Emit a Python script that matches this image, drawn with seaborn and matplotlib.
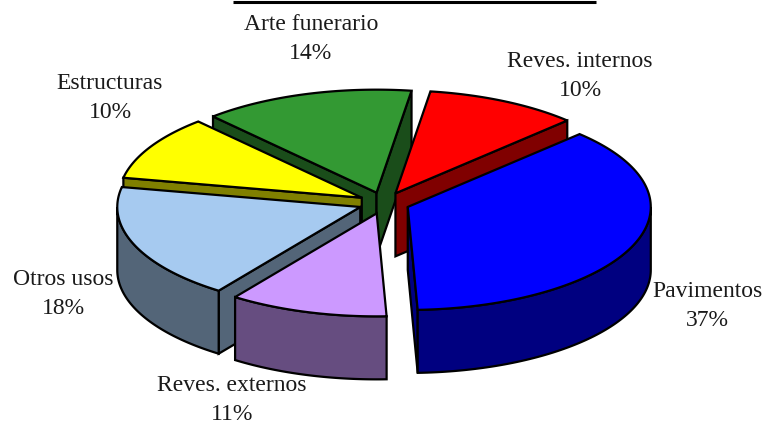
import numpy as np
import pandas as pd
import matplotlib.pyplot as plt
from matplotlib.patches import Polygon
import seaborn as sns

# valores, en el sentido de las agujas desde Pavimentos
categories = ["Pavimentos", "Reves. externos", "Otros usos", "Estructuras", "Arte funerario", "Reves. internos"]
shares = [36.85, 10.55, 18.2, 10.15, 14.05, 10.2]
top_colors = ["#0000FF", "#CC99FF", "#A6CAF0", "#FFFF00", "#339933", "#FF0000"]
side_colors = ["#000080", "#664D80", "#536578", "#808000", "#1A4D1A", "#800000"]
label_x = [707, 232, 63, 110, 311, 580]
label_y = [297, 391, 285, 89, 30, 67]

# geometria de la tarta en pixeles
CX, CY = 384, 203
RX, RY = 243, 103
EXPLODE = 0.105
DEPTH = 63
START = 45

sns.set_theme(style="white")
plt.rcParams["font.family"] = ["Liberation Serif", "DejaVu Serif"]

df = pd.DataFrame({"name": categories, "pct": shares, "top": top_colors, "side": side_colors,
                   "lx": label_x, "ly": label_y})
df["hi"] = START - df["pct"].cumsum().shift(fill_value=0) * 3.6
df["lo"] = START - df["pct"].cumsum() * 3.6


def rim(ox, oy, deg):
    t = np.radians(deg)
    return ox + RX * np.cos(t), oy - RY * np.sin(t)


def draw_slice(ax, row, z):
    hi, lo = row.hi, row.lo
    mid = np.radians((hi + lo) / 2)
    ox = CX + EXPLODE * RX * np.cos(mid)
    oy = CY - EXPLODE * RY * np.sin(mid)
    style = dict(edgecolor="black", linewidth=1.6, joinstyle="miter", zorder=z)

    # paredes radiales que miran al espectador
    for deg, visible in [(hi, np.cos(np.radians(hi)) < 0), (lo, np.cos(np.radians(lo)) > 0)]:
        if visible:
            x, y = rim(ox, oy, deg)
            ax.add_patch(Polygon([(ox, oy), (x, y), (x, y + DEPTH), (ox, oy + DEPTH)],
                                 facecolor=row.side, **style))

    # pared exterior, solo la mitad delantera
    a, b = max(lo, -180), min(hi, 0)
    if a < b:
        xs, ys = rim(ox, oy, np.linspace(a, b, 80))
        pts = np.r_[np.c_[xs, ys], np.c_[xs, ys + DEPTH][::-1]]
        ax.add_patch(Polygon(pts, facecolor=row.side, **style))

    # cara superior
    xs, ys = rim(ox, oy, np.linspace(lo, hi, 120))
    pts = np.r_[[(ox, oy)], np.c_[xs, ys]]
    ax.add_patch(Polygon(pts, facecolor=row.top, **style))


fig = plt.figure(figsize=(7.65, 4.25), dpi=100)
ax = fig.add_axes([0, 0, 1, 1])
ax.set_xlim(0, 765)
ax.set_ylim(425, 0)
ax.set_axis_off()

# de atras hacia delante
order = ["Arte funerario", "Reves. internos", "Estructuras", "Otros usos", "Reves. externos", "Pavimentos"]
for z, name in enumerate(order):
    draw_slice(ax, df[df["name"] == name].iloc[0], z + 2)

for row in df.itertuples():
    ax.text(row.lx, row.ly, row.name, ha="center", va="baseline",
            fontsize=17, color="#1a1a1a", zorder=20)
    ax.text(row.lx, row.ly + 29, f"{round(row.pct)}%", ha="center", va="baseline",
            fontsize=17, color="#1a1a1a", zorder=20)

# linea superior
ax.plot([233, 596], [2, 2], color="black", lw=2.2, solid_capstyle="butt")

fig.savefig("out.png", dpi=100)
